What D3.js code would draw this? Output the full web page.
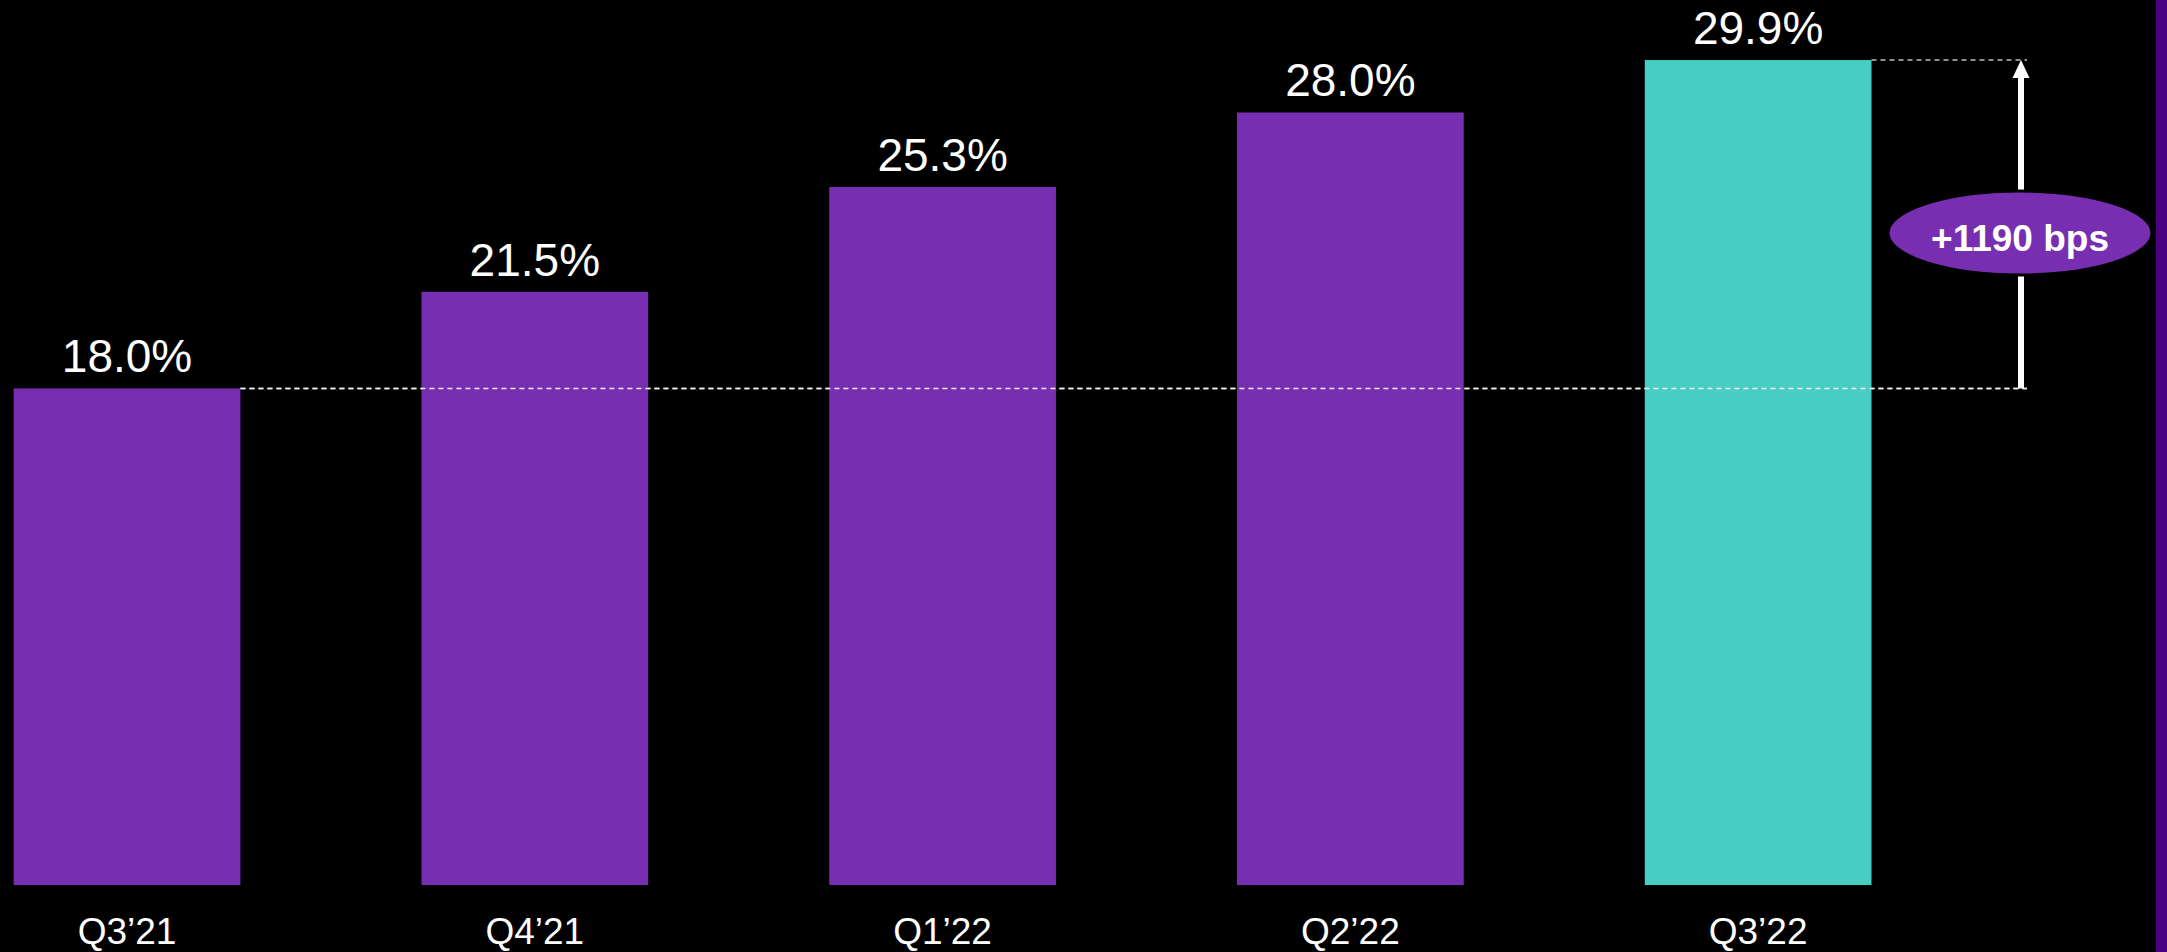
<!DOCTYPE html>
<html>
<head>
<meta charset="utf-8">
<title>Quarterly margin</title>
<script src="https://d3js.org/d3.v7.min.js"></script>
<style>
    html, body { margin: 0; padding: 0; background: #000; overflow: hidden; }
    svg { display: block; font-family: "Liberation Sans", Arial, sans-serif; }
    .value { fill: #fff; font-size: 46px; text-anchor: middle; }
    .cat { fill: #fff; font-size: 37px; text-anchor: middle; }
    .bps { fill: #fff; font-size: 37px; font-weight: bold; text-anchor: middle; }
</style>
</head>
<body>
<svg width="2167" height="952"></svg>
<script>
    var categories = ["Q3\u201921", "Q4\u201921", "Q1\u201922", "Q2\u201922", "Q3\u201922"];
    var values = [18.0, 21.5, 25.3, 28.0, 29.9];
    var valueLabels = ["18.0%", "21.5%", "25.3%", "28.0%", "29.9%"];
    var changeLabel = "+1190 bps";

    var purple = "#772eb0",
        teal = "#48cdc3";

    var svg = d3.select("svg"),
        W = +svg.attr("width"),
        H = +svg.attr("height");

    svg.append("rect").attr("width", W).attr("height", H).attr("fill", "#000");
    // thin brand strip on the right edge
    svg.append("rect").attr("x", 2156).attr("y", 0).attr("width", W - 2156).attr("height", H).attr("fill", "#4b0082");

    var x = d3.scaleBand()
        .domain(categories)
        .range([13.7, 1871.5])
        .paddingInner(0.444)
        .paddingOuter(0);

    var y = d3.scaleLinear()
        .domain([0, 30])
        .range([885, 885 - 30 * 27.59]);

    var data = categories.map(function(c, i) {
        return {cat: c, value: values[i], label: valueLabels[i], last: i === categories.length - 1};
    });

    var first = data[0], last = data[data.length - 1];
    var arrowX = 2021, lineEnd = 2027;

    // dashed reference lines
    svg.append("line")
        .attr("x1", x(first.cat) + x.bandwidth()).attr("x2", lineEnd)
        .attr("y1", y(first.value)).attr("y2", y(first.value))
        .attr("stroke", "#f2f2f2").attr("stroke-width", 1.5)
        .attr("stroke-dasharray", "5,4");

    svg.append("line")
        .attr("x1", x(last.cat) + x.bandwidth()).attr("x2", lineEnd)
        .attr("y1", y(last.value)).attr("y2", y(last.value))
        .attr("stroke", "#bfbfbf").attr("stroke-width", 1.5)
        .attr("stroke-dasharray", "5,4");

    svg.selectAll(".bar")
        .data(data)
        .enter().append("rect")
        .attr("class", "bar")
        .attr("x", function(d) { return x(d.cat); })
        .attr("y", function(d) { return y(d.value); })
        .attr("width", x.bandwidth())
        .attr("height", function(d) { return y(0) - y(d.value); })
        .attr("fill", function(d) { return d.last ? teal : purple; });

    // redraw the lower dashed line across the middle bars
    svg.append("line")
        .attr("x1", x(first.cat) + x.bandwidth()).attr("x2", lineEnd)
        .attr("y1", y(first.value)).attr("y2", y(first.value))
        .attr("stroke", "#f2f2f2").attr("stroke-width", 1.5)
        .attr("stroke-dasharray", "5,4");

    svg.selectAll(".value")
        .data(data)
        .enter().append("text")
        .attr("class", "value")
        .attr("x", function(d) { return x(d.cat) + x.bandwidth() / 2; })
        .attr("y", function(d) { return y(d.value) - 16; })
        .text(function(d) { return d.label; });

    svg.selectAll(".cat")
        .data(data)
        .enter().append("text")
        .attr("class", "cat")
        .attr("x", function(d) { return x(d.cat) + x.bandwidth() / 2; })
        .attr("y", 944)
        .text(function(d) { return d.cat; });

    // growth arrow
    var headH = 18, headW = 17;
    svg.append("line")
        .attr("x1", arrowX).attr("x2", arrowX)
        .attr("y1", y(first.value)).attr("y2", y(last.value) + headH - 1)
        .attr("stroke", "#fff").attr("stroke-width", 6);
    svg.append("path")
        .attr("d", "M" + arrowX + "," + y(last.value) +
                   "L" + (arrowX + headW / 2) + "," + (y(last.value) + headH) +
                   "L" + (arrowX - headW / 2) + "," + (y(last.value) + headH) + "Z")
        .attr("fill", "#fff");

    var badgeY = 233;
    svg.append("ellipse")
        .attr("cx", 2020).attr("cy", badgeY)
        .attr("rx", 132).attr("ry", 42)
        .attr("fill", purple)
        .attr("stroke", "#000").attr("stroke-width", 3);
    svg.append("text")
        .attr("class", "bps")
        .attr("x", 2020).attr("y", badgeY + 18)
        .text(changeLabel);
</script>
</body>
</html>
